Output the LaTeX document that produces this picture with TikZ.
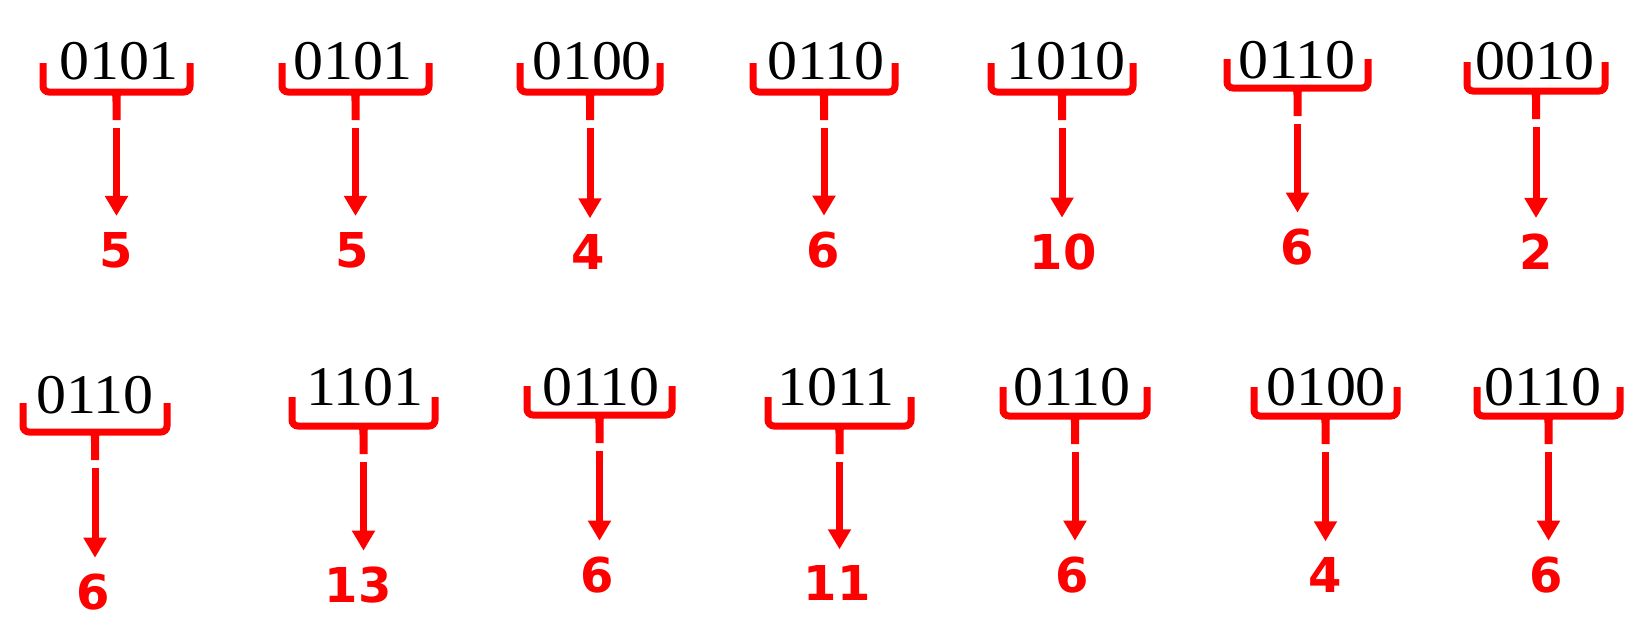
\documentclass[tikz,border=0pt]{standalone}
\usepackage{fontspec}
\setmainfont{Liberation Serif}
\newfontfamily\bitfont[FakeStretch=1.07]{Liberation Serif}
\newfontfamily\numfont{DejaVu Sans}
\usetikzlibrary{arrows.meta}
\definecolor{bred}{RGB}{255,0,0}
\tikzset{
  bitstr/.style={anchor=base, inner sep=0pt, font=\bitfont\fontsize{56}{60}\selectfont},
  valnum/.style={inner sep=0pt, text=bred, font=\numfont\bfseries\fontsize{48}{52}\selectfont},
  bracepath/.style={draw=bred, line width=7pt, rounded corners=6pt},
  stemfill/.style={fill=bred},
  valarrow/.style={draw=bred, line width=7pt, -{Triangle[width=22pt,length=20pt]}, shorten >=16pt}
}
\begin{document}
\begin{tikzpicture}[x=1pt,y=-1pt]
\useasboundingbox (0,0) rectangle (1643,643);
\foreach \id/\xl/\xr/\by/\tx/\bl/\txt/\nx/\ny/\nv in {
  1/43/190/92/119/79/0101/116/250/5,
  2/282/429/92/353/79/0101/352/250/5,
  3/520/660/92/592/79/0100/588/252/4,
  4/753/895/92/826/79/0110/823/250/6,
  5/991/1133/92/1066/79/1010/1063/252/10,
  6/1227/1368/88/1297/78/0110/1297/247/6,
  7/1467/1605/91/1535/79/0010/1536/252/2,
  8/23/167/432/95/413/0110/93/592/6,
  9/292/435/426/365/405/1101/358/585/13,
  10/527/672/415/601/405/0110/597/575/6,
  11/768/911/426/836/405/1011/837/583/11,
  12/1003/1147/416/1072/405/0110/1072/575/6,
  13/1254/1397/416/1326/405/0100/1325/575/4,
  14/1477/1620/416/1543/405/0110/1546/575/6}{
  \pgfmathsetmacro\cx{(\xl+\xr)/2}
  \node[bitstr] (t\id) at (\tx,\bl) {\txt};
  \draw[bracepath] (\xl,{\by-29}) -- (\xl,\by) -- (\xr,\by) -- (\xr,{\by-29});
  \fill[stemfill] ({\cx-10},{\by}) .. controls ({\cx-4},{\by+1}) .. ({\cx-4},{\by+10})
     -- ({\cx-4},{\by+28}) -- ({\cx+4},{\by+28}) -- ({\cx+4},{\by+10})
     .. controls ({\cx+4},{\by+1}) .. ({\cx+10},{\by}) -- cycle;
  \coordinate (a\id) at (\cx,{\by+36});
  \node[valnum] (n\id) at (\nx,\ny) {\nv};
  \draw[valarrow] (a\id) -- (a\id |- n\id.north);
}
\end{tikzpicture}
\end{document}
